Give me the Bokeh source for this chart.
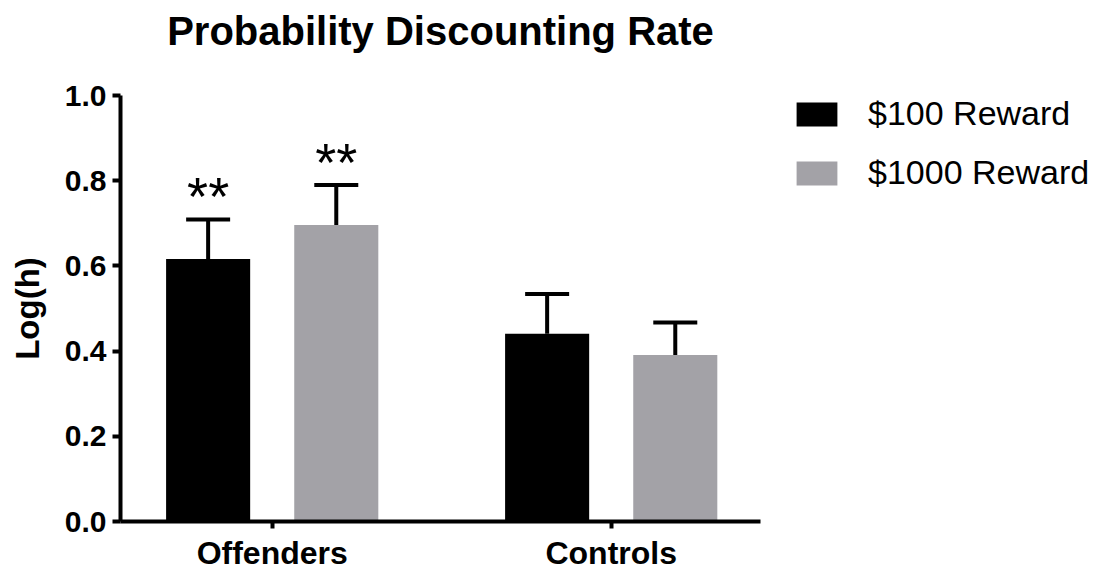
from bokeh.plotting import figure
from bokeh.models import (ColumnDataSource, Range1d, FixedTicker, Whisker, TeeHead,
                          Legend, LegendItem, Title, LinearAxis, PrintfTickFormatter)
from bokeh.core.properties import value
from bokeh.embed import file_html
from bokeh.resources import INLINE

# ---- data ----
groups = ["Offenders", "Controls"]
series = ["$100 Reward", "$1000 Reward"]
mean_100 = [0.616, 0.441]
mean_1000 = [0.696, 0.391]
sem_100 = [0.093, 0.093]
sem_1000 = [0.094, 0.076]
stars_100 = ["**", ""]
stars_1000 = ["**", ""]
y_ticks = [0.0, 0.2, 0.4, 0.6, 0.8, 1.0]
chart_title = "Probability Discounting Rate"

# ---- layout constants ----
FONT = "Liberation Sans"
group_pos = [1, 2]
dodge = 0.189
bar_w = 0.248
colors = ["#000000", "#a3a2a7"]

p = figure(frame_width=640, frame_height=426,
           min_border_left=120, min_border_right=341,
           min_border_top=95, min_border_bottom=54,
           x_range=Range1d(0.5525, 2.4404), y_range=Range1d(0, 1),
           output_backend="svg", toolbar_location=None, tools="")

p.outline_line_color = None
p.xgrid.grid_line_color = None
p.ygrid.grid_line_color = None
p.background_fill_color = "white"
p.border_fill_color = "white"

xax = p.below[0]
yax = p.left[0]

# blank strip between the plot area and the heading: one invisible,
# unlabelled tick whose length sets the strip height
gap = LinearAxis(ticker=FixedTicker(ticks=[1.5]), axis_line_color=None,
                 major_label_overrides={1.5: ""}, major_label_standoff=0,
                 major_tick_out=41, major_tick_in=0, minor_tick_out=0,
                 minor_tick_in=0,
                 major_tick_line_color=None, minor_tick_line_color=None)
p.add_layout(gap, "above")

title = Title(text=chart_title, align="center", vertical_align="top",
              text_font=FONT, text_font_size="40px", text_font_style="bold",
              text_color="black", standoff=0)
p.add_layout(title, "above")

renderers = []
for k, (means, sems, stars) in enumerate([(mean_100, sem_100, stars_100),
                                          (mean_1000, sem_1000, stars_1000)]):
    xs = [g + (-dodge if k == 0 else dodge) for g in group_pos]
    upper = [m + s for m, s in zip(means, sems)]
    src = ColumnDataSource(dict(x=xs, top=means, upper=upper, stars=stars))
    r = p.vbar(x="x", top="top", width=bar_w, bottom=0, source=src,
               fill_color=colors[k], line_color=None)
    renderers.append(r)
    w = Whisker(base="x", lower="top", upper="upper", source=src,
                line_color="black", line_width=4,
                upper_head=TeeHead(size=44, line_width=4, line_color="black"),
                lower_head=None)
    p.add_layout(w)
    p.text(x="x", y="upper", text="stars", source=src,
           text_font=value(FONT), text_font_size="54px", text_align="center",
           text_baseline="alphabetic", y_offset=-23, text_color="black")

# ---- axes ----
yax.ticker = FixedTicker(ticks=y_ticks)
yax.formatter = PrintfTickFormatter(format="%.1f")
yax.axis_label = "Log(h)"
yax.axis_label_text_font = FONT
yax.axis_label_text_font_size = "33px"
yax.axis_label_text_font_style = "bold"
yax.axis_label_text_color = "black"
yax.axis_label_standoff = 16
yax.major_label_text_font = FONT
yax.major_label_text_font_size = "30px"
yax.major_label_text_font_style = "bold"
yax.major_label_text_color = "black"
yax.major_label_standoff = 6
yax.axis_line_width = 4
yax.axis_line_color = "black"
yax.major_tick_line_width = 4
yax.major_tick_out = 8
yax.major_tick_in = 0
yax.minor_tick_line_color = None

xax.ticker = FixedTicker(ticks=group_pos)
xax.major_label_overrides = {g: name for g, name in zip(group_pos, groups)}
xax.major_label_text_font = FONT
xax.major_label_text_font_size = "32px"
xax.major_label_text_font_style = "bold"
xax.major_label_text_color = "black"
xax.major_label_standoff = 6
xax.axis_line_width = 4
xax.axis_line_color = "black"
xax.major_tick_line_width = 4
xax.major_tick_out = 7
xax.major_tick_in = 0
xax.minor_tick_line_color = None

# ---- legend (right-hand panel) ----
legend = Legend(items=[LegendItem(label=s, renderers=[r]) for s, r in zip(series, renderers)],
                location=(31, 329), orientation="vertical",
                glyph_width=51, glyph_height=30, label_height=30,
                label_standoff=26, spacing=20, padding=0, margin=0,
                label_text_font=FONT, label_text_font_size="34px",
                label_text_color="black",
                border_line_color=None, background_fill_alpha=0)
p.add_layout(legend, "right")

open("out.html", "w").write(file_html(p, INLINE))
